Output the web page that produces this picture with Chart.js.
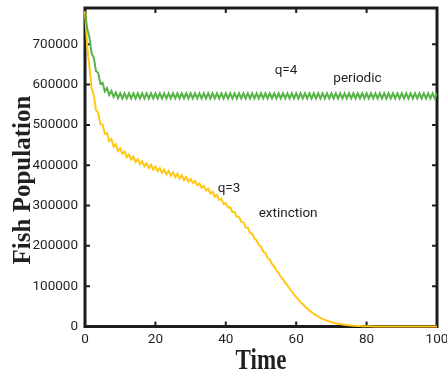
<!DOCTYPE html>
<html>
<head>
<meta charset="utf-8">
<script src="https://cdn.jsdelivr.net/npm/chart.js@4/dist/chart.umd.min.js"></script>
<style>
  html, body { margin: 0; padding: 0; background: #ffffff; }
  #c { display: block; }
</style>
</head>
<body>
<canvas id="c" width="447" height="374"></canvas>
<script>
// ---- data ----
const time = [
  0,0.625,1.25,1.875,2.5,3.125,3.75,4.375,
  5,5.625,6.25,6.875,7.5,8.125,8.75,9.375,
  10,10.625,11.25,11.875,12.5,13.125,13.75,14.375,
  15,15.625,16.25,16.875,17.5,18.125,18.75,19.375,
  20,20.625,21.25,21.875,22.5,23.125,23.75,24.375,
  25,25.625,26.25,26.875,27.5,28.125,28.75,29.375,
  30,30.625,31.25,31.875,32.5,33.125,33.75,34.375,
  35,35.625,36.25,36.875,37.5,38.125,38.75,39.375,
  40,40.625,41.25,41.875,42.5,43.125,43.75,44.375,
  45,45.625,46.25,46.875,47.5,48.125,48.75,49.375,
  50,50.625,51.25,51.875,52.5,53.125,53.75,54.375,
  55,55.625,56.25,56.875,57.5,58.125,58.75,59.375,
  60,60.625,61.25,61.875,62.5,63.125,63.75,64.375,
  65,65.625,66.25,66.875,67.5,68.125,68.75,69.375,
  70,70.625,71.25,71.875,72.5,73.125,73.75,74.375,
  75,75.625,76.25,76.875,77.5,78.125,78.75,79.375,
  80,80.625,81.25,81.875,82.5,83.125,83.75,84.375,
  85,85.625,86.25,86.875,87.5,88.125,88.75,89.375,
  90,90.625,91.25,91.875,92.5,93.125,93.75,94.375,
  95,95.625,96.25,96.875,97.5,98.125,98.75,99.375,
  100
];

// q=4 : periodic
const popQ4 = [
  782000,738500,718500,677500,666500,633500,629500,602500,
  604500,583500,591500,574500,584500,569500,580500,566500,
  578500,565500,578500,565500,578500,565500,578500,565500,
  578500,565500,578500,565500,578500,565500,578500,565500,
  578500,565500,578500,565500,578500,565500,578500,565500,
  578500,565500,578500,565500,578500,565500,578500,565500,
  578500,565500,578500,565500,578500,565500,578500,565500,
  578500,565500,578500,565500,578500,565500,578500,565500,
  578500,565500,578500,565500,578500,565500,578500,565500,
  578500,565500,578500,565500,578500,565500,578500,565500,
  578500,565500,578500,565500,578500,565500,578500,565500,
  578500,565500,578500,565500,578500,565500,578500,565500,
  578500,565500,578500,565500,578500,565500,578500,565500,
  578500,565500,578500,565500,578500,565500,578500,565500,
  578500,565500,578500,565500,578500,565500,578500,565500,
  578500,565500,578500,565500,578500,565500,578500,565500,
  578500,565500,578500,565500,578500,565500,578500,565500,
  578500,565500,578500,565500,578500,565500,578500,565500,
  578500,565500,578500,565500,578500,565500,578500,565500,
  578500,565500,578500,565500,578500,565500,578500,565500,
  578500
];

// q=3 : extinction
const popQ3 = [
  782000,694000,646000,592000,573000,537000,530000,502000,
  501000,478000,480000,460000,465000,446000,452000,435000,
  442000,428000,434000,420000,427000,414000,421000,408000,
  415000,402500,410000,397500,405000,393000,401000,389000,
  397000,385000,393000,381000,389000,377000,385500,374000,
  382000,370500,379000,367000,375000,363000,371000,359000,
  366000,355500,361000,350000,355000,344000,349000,337500,
  342000,330000,334000,322000,326000,313500,317000,304000,
  306000,295000,295500,284000,284000,272000,272000,259500,
  259000,246000,245000,232000,230500,218000,214000,202000,
  198000,186000,182000,170000,166000,155000,149000,139000,
  133000,123000,117500,108500,102000,94000,87000,80000,
  73000,66500,60500,55000,49500,44500,40000,35500,
  31500,28000,24500,21500,19000,16500,14500,12500,
  11000,9500,8200,7000,6000,5100,4300,3600,
  3000,2500,2100,1700,1400,1100,900,700,
  600,480,380,300,240,190,150,120,
  90,70,55,45,35,27,21,16,
  12,9,7,5,4,3,2,2,
  1,1,1,1,0,0,0,0,
  0
];

const seriesNames = ['q=4', 'q=3'];
const xTicks = [0, 20, 40, 60, 80, 100];
const yTicks = [0, 100000, 200000, 300000, 400000, 500000, 600000, 700000];
const xTitle = 'Time';
const yTitle = 'Fish Population';
const noteTexts = ['q=4', 'periodic', 'q=3', 'extinction'];
const noteTimes = [57.1, 77.4, 40.9, 57.7];
const noteValues = [633800, 614000, 341100, 279100];

// ---- chart ----
const TICK_FONT = { family: 'Roboto', size: 13.5 };
const TEXT_COLOR = '#231f20';

const framePlugin = {
  id: 'frame',
  beforeDatasetsDraw(chart) {
    const { ctx, chartArea: a, scales } = chart;
    ctx.save();
    ctx.strokeStyle = '#1c1c1c';
    ctx.lineWidth = 3;
    ctx.strokeRect(a.left, a.top, a.right - a.left, a.bottom - a.top);
    ctx.lineWidth = 2;
    ctx.beginPath();
    scales.y.ticks.forEach(t => {
      if (t.value === 0) return;
      const p = scales.y.getPixelForValue(t.value);
      ctx.moveTo(a.left, p); ctx.lineTo(a.left + 5, p);
      ctx.moveTo(a.right, p); ctx.lineTo(a.right - 5, p);
    });
    scales.x.ticks.forEach(t => {
      if (t.value === 0 || t.value === 100) return;
      const p = scales.x.getPixelForValue(t.value);
      ctx.moveTo(p, a.bottom); ctx.lineTo(p, a.bottom - 5);
      ctx.moveTo(p, a.top); ctx.lineTo(p, a.top + 5);
    });
    ctx.stroke();
    ctx.restore();
  },
  afterDraw(chart) {
    const { ctx, chartArea: a, scales } = chart;
    ctx.save();
    ctx.fillStyle = TEXT_COLOR;
    // annotations
    ctx.font = '13.5px Roboto';
    ctx.textAlign = 'center';
    ctx.textBaseline = 'middle';
    noteTexts.forEach((txt, i) => {
      ctx.fillText(txt, scales.x.getPixelForValue(noteTimes[i]), scales.y.getPixelForValue(noteValues[i]));
    });
    // x title
    ctx.save();
    ctx.font = 'bold 24px "Liberation Serif"';
    ctx.textBaseline = 'alphabetic';
    ctx.translate((a.left + a.right) / 2, 369);
    ctx.scale(0.96, 1.2);
    ctx.fillText(xTitle, 0, 0);
    ctx.restore();
    // y title
    ctx.save();
    ctx.font = 'bold 25px "Liberation Serif"';
    ctx.textBaseline = 'alphabetic';
    ctx.translate(29.5, 180);
    ctx.rotate(-Math.PI / 2);
    ctx.fillText(yTitle, 0, 0);
    ctx.restore();
    ctx.restore();
  }
};

new Chart(document.getElementById('c'), {
  type: 'line',
  data: {
    datasets: [
      {
        label: seriesNames[0],
        data: time.map((t, i) => ({ x: t, y: popQ4[i] })),
        borderColor: '#56b447',
        borderWidth: 2,
        pointRadius: 0,
        tension: 0,
        fill: false
      },
      {
        label: seriesNames[1],
        data: time.map((t, i) => ({ x: t, y: popQ3[i] })),
        borderColor: '#ffc814',
        borderWidth: 2,
        pointRadius: 0,
        tension: 0,
        fill: false,
        clip: false
      }
    ]
  },
  options: {
    responsive: false,
    animation: false,
    devicePixelRatio: 1,
    layout: { padding: { top: 8, right: 10, bottom: 0, left: 0 } },
    plugins: { legend: { display: false }, tooltip: { enabled: false } },
    scales: {
      x: {
        type: 'linear',
        min: 0,
        max: 100,
        grid: { display: false, drawTicks: false },
        border: { display: false },
        ticks: { font: TICK_FONT, color: TEXT_COLOR, padding: 5, maxRotation: 0, autoSkip: false,
                 callback: v => String(v) },
        afterBuildTicks: s => { s.ticks = xTicks.map(v => ({ value: v })); },
        afterFit: s => { s.height = 47.5; s.paddingLeft = 0; s.paddingRight = 0; }
      },
      y: {
        type: 'linear',
        min: 0,
        max: 790000,
        grid: { display: false, drawTicks: false },
        border: { display: false },
        ticks: { font: TICK_FONT, color: TEXT_COLOR, padding: 7, autoSkip: false,
                 callback: v => String(v) },
        afterBuildTicks: s => { s.ticks = yTicks.map(v => ({ value: v })); },
        afterFit: s => { s.width = 85; s.paddingTop = 0; s.paddingBottom = 0; }
      }
    }
  },
  plugins: [framePlugin]
});
</script>
</body>
</html>
